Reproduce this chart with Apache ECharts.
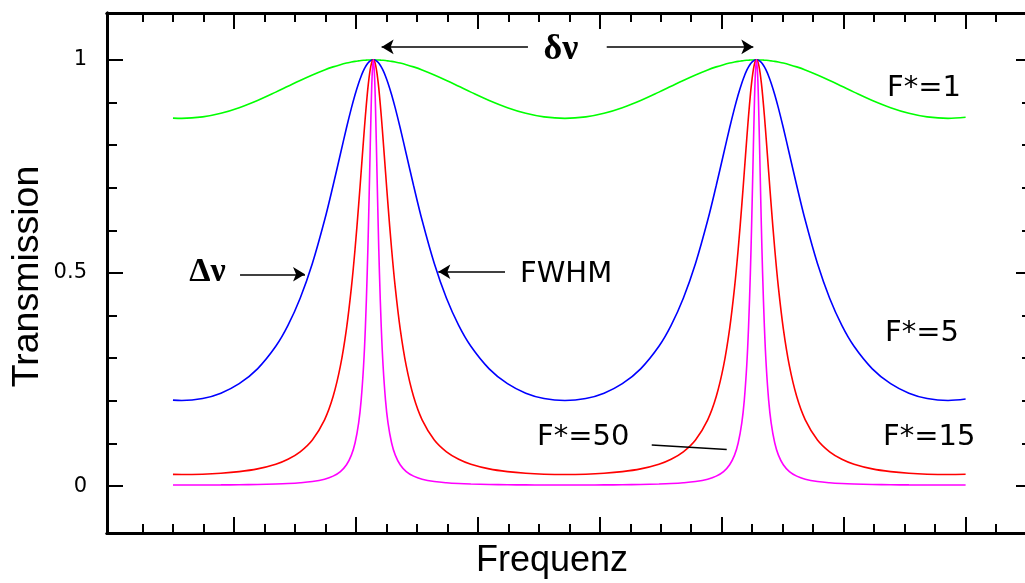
<!DOCTYPE html>
<html><head><meta charset="utf-8">
<script src="https://cdn.jsdelivr.net/npm/echarts@6/dist/echarts.min.js"></script>
<style>html,body{margin:0;padding:0;background:#fff}#c{width:1025px;height:583px}</style>
</head><body><div id="c"></div>
<script>
// Frequency axis positions (arbitrary units, major tick = 1)
const frequency = [0.5, 0.572,
 0.743, 0.893, 1.043, 1.193, 1.343, 1.443, 1.543, 1.643, 1.743, 1.813, 1.873, 1.923, 1.963, 1.993, 2.023, 2.043, 2.063, 2.078, 2.093, 2.103, 2.113, 2.123, 2.133,
 2.143,
 2.153, 2.163, 2.173, 2.183, 2.193, 2.208, 2.223, 2.243, 2.263, 2.293, 2.323, 2.363, 2.413, 2.473, 2.543, 2.643, 2.743, 2.843, 2.943, 3.093, 3.243, 3.393, 3.543,
 3.714,
 3.885, 4.035, 4.185, 4.335, 4.485, 4.585, 4.685, 4.785, 4.885, 4.955, 5.015, 5.065, 5.105, 5.135, 5.165, 5.185, 5.205, 5.220, 5.235, 5.245, 5.255, 5.265, 5.275,
 5.285,
 5.295, 5.305, 5.315, 5.325, 5.335, 5.350, 5.365, 5.385, 5.405, 5.435, 5.465, 5.505, 5.555, 5.615, 5.685, 5.785, 5.885, 5.985, 6.085, 6.235, 6.385, 6.535, 6.685,
 6.856, 7.0];

const transF1 = [0.8634, 0.8628,
 0.8662, 0.8747, 0.8879, 0.9048, 0.9244, 0.9381, 0.9518, 0.9647, 0.9765, 0.9836, 0.9888, 0.9925, 0.9949, 0.9965, 0.9977, 0.9984, 0.9990, 0.9993, 0.9996, 0.9997, 0.9999, 0.9999, 1.0000,
 1,
 1.0000, 0.9999, 0.9999, 0.9997, 0.9996, 0.9993, 0.9990, 0.9984, 0.9977, 0.9965, 0.9949, 0.9925, 0.9888, 0.9836, 0.9765, 0.9647, 0.9518, 0.9381, 0.9244, 0.9048, 0.8879, 0.8747, 0.8662,
 0.8628,
 0.8662, 0.8747, 0.8879, 0.9048, 0.9244, 0.9381, 0.9518, 0.9647, 0.9765, 0.9836, 0.9888, 0.9925, 0.9949, 0.9965, 0.9977, 0.9984, 0.9990, 0.9993, 0.9996, 0.9997, 0.9999, 0.9999, 1.0000,
 1,
 1.0000, 0.9999, 0.9999, 0.9997, 0.9996, 0.9993, 0.9990, 0.9984, 0.9977, 0.9965, 0.9949, 0.9925, 0.9888, 0.9836, 0.9765, 0.9647, 0.9518, 0.9381, 0.9244, 0.9048, 0.8879, 0.8747, 0.8662,
 0.8628, 0.8653];

const transF5 = [0.2017, 0.2008,
 0.2055, 0.2181, 0.2403, 0.2752, 0.3281, 0.3771, 0.4407, 0.5222, 0.6236, 0.7053, 0.7793, 0.8407, 0.8869, 0.9184, 0.9460, 0.9618, 0.9752, 0.9835, 0.9902, 0.9937, 0.9964, 0.9984, 0.9996,
 1,
 0.9996, 0.9984, 0.9964, 0.9937, 0.9902, 0.9835, 0.9752, 0.9618, 0.9460, 0.9184, 0.8869, 0.8407, 0.7793, 0.7053, 0.6236, 0.5222, 0.4407, 0.3771, 0.3281, 0.2752, 0.2403, 0.2181, 0.2055,
 0.2008,
 0.2055, 0.2181, 0.2403, 0.2752, 0.3281, 0.3771, 0.4407, 0.5222, 0.6236, 0.7053, 0.7793, 0.8407, 0.8869, 0.9184, 0.9460, 0.9618, 0.9752, 0.9835, 0.9902, 0.9937, 0.9964, 0.9984, 0.9996,
 1,
 0.9996, 0.9984, 0.9964, 0.9937, 0.9902, 0.9835, 0.9752, 0.9618, 0.9460, 0.9184, 0.8869, 0.8407, 0.7793, 0.7053, 0.6236, 0.5222, 0.4407, 0.3771, 0.3281, 0.2752, 0.2403, 0.2181, 0.2055,
 0.2008, 0.2042];

const transF15 = [0.0275, 0.0272,
 0.0280, 0.0301, 0.0340, 0.0405, 0.0515, 0.0631, 0.0806, 0.1084, 0.1556, 0.2101, 0.2819, 0.3697, 0.4657, 0.5557, 0.6609, 0.7370, 0.8139, 0.8688, 0.9179, 0.9459, 0.9688, 0.9859, 0.9964,
 1,
 0.9964, 0.9859, 0.9688, 0.9459, 0.9179, 0.8688, 0.8139, 0.7370, 0.6609, 0.5557, 0.4657, 0.3697, 0.2819, 0.2101, 0.1556, 0.1084, 0.0806, 0.0631, 0.0515, 0.0405, 0.0340, 0.0301, 0.0280,
 0.0272,
 0.0280, 0.0301, 0.0340, 0.0405, 0.0515, 0.0631, 0.0806, 0.1084, 0.1556, 0.2101, 0.2819, 0.3697, 0.4657, 0.5557, 0.6609, 0.7370, 0.8139, 0.8688, 0.9179, 0.9459, 0.9688, 0.9859, 0.9964,
 1,
 0.9964, 0.9859, 0.9688, 0.9459, 0.9179, 0.8688, 0.8139, 0.7370, 0.6609, 0.5557, 0.4657, 0.3697, 0.2819, 0.2101, 0.1556, 0.1084, 0.0806, 0.0631, 0.0515, 0.0405, 0.0340, 0.0301, 0.0280,
 0.0272, 0.0277];

const transF50 = [0.0025, 0.0025,
 0.0026, 0.0028, 0.0032, 0.0038, 0.0049, 0.0060, 0.0078, 0.0108, 0.0163, 0.0234, 0.0341, 0.0501, 0.0727, 0.1011, 0.1492, 0.2013, 0.2824, 0.3733, 0.5015, 0.6111, 0.7363, 0.8627, 0.9617,
 1,
 0.9617, 0.8627, 0.7363, 0.6111, 0.5015, 0.3733, 0.2824, 0.2013, 0.1492, 0.1011, 0.0727, 0.0501, 0.0341, 0.0234, 0.0163, 0.0108, 0.0078, 0.0060, 0.0049, 0.0038, 0.0032, 0.0028, 0.0026,
 0.0025,
 0.0026, 0.0028, 0.0032, 0.0038, 0.0049, 0.0060, 0.0078, 0.0108, 0.0163, 0.0234, 0.0341, 0.0501, 0.0727, 0.1011, 0.1492, 0.2013, 0.2824, 0.3733, 0.5015, 0.6111, 0.7363, 0.8627, 0.9617,
 1,
 0.9617, 0.8627, 0.7363, 0.6111, 0.5015, 0.3733, 0.2824, 0.2013, 0.1492, 0.1011, 0.0727, 0.0501, 0.0341, 0.0234, 0.0163, 0.0108, 0.0078, 0.0060, 0.0049, 0.0038, 0.0032, 0.0028, 0.0026,
 0.0025, 0.0026];

const xMajorTicks = [1, 2, 3, 4, 5, 6, 7];
const xMinorTicks = [0.25, 0.5, 0.75, 1.25, 1.5, 1.75, 2.25, 2.5, 2.75, 3.25, 3.5, 3.75, 4.25, 4.5, 4.75, 5.25, 5.5, 5.75, 6.25, 6.5, 6.75, 7.25];
const yMajorTicks = [0, 0.5, 1];
const yTickLabels = ['0', '0.5', '1'];
const yMinorTicks = [0.1, 0.2, 0.3, 0.4, 0.6, 0.7, 0.8, 0.9];

// annotation anchors in data coordinates
const deltaNuLeft = [[3.411, 1.0305], [2.211, 1.0305]];
const deltaNuRight = [[4.057, 1.0305], [5.259, 1.0305]];
const bigDeltaArrow = [[1.050, 0.497], [1.583, 0.497]];
const fwhmArrow = [[3.223, 0.503], [2.676, 0.503]];
const f50Leader = [[4.426, 0.0962], [5.041, 0.0861]];

const X_MIN = -0.041, X_MAX = 7.487, Y_MIN = -0.11, Y_MAX = 1.11;

const chart = echarts.init(document.getElementById('c'), null, {renderer: 'canvas'});

function xAx(grid, pos, ticks, len) {
  return {type: 'value', gridIndex: grid, position: pos, min: X_MIN, max: X_MAX,
    axisLine: {show: true, onZero: false, lineStyle: {color: '#000', width: 3}},
    axisTick: {show: true, inside: true, length: len, customValues: ticks, lineStyle: {color: '#000', width: 2}},
    axisLabel: {show: false}, splitLine: {show: false}};
}
function yAx(grid, pos, ticks, len, labels, showLine) {
  return {type: 'value', gridIndex: grid, position: pos, min: Y_MIN, max: Y_MAX,
    axisLine: {show: showLine, onZero: false, lineStyle: {color: '#000', width: 3}},
    axisTick: {show: true, inside: true, length: len, customValues: ticks, lineStyle: {color: '#000', width: 2}},
    axisLabel: labels ? {show: true, customValues: yMajorTicks, margin: 20, color: '#000',
      fontFamily: 'DejaVu Sans', fontSize: 21,
      formatter: v => yTickLabels[yMajorTicks.indexOf(v)]} : {show: false},
    splitLine: {show: false}};
}

function arrowLine(pts, startSym, endSym) {
  return [{coord: pts[0], symbol: startSym}, {coord: pts[1], symbol: endSym}];
}

function curve(name, ys, color, extra) {
  return Object.assign({
    type: 'line', name: name, xAxisIndex: 0, yAxisIndex: 0,
    data: frequency.map((x, i) => [x, ys[i]]),
    showSymbol: false, symbol: 'none', smooth: 0.35,
    lineStyle: {color: color, width: 1.6}, itemStyle: {color: color},
    silent: true
  }, extra || {});
}

const gridRect = {left: 107, top: 13, right: 0, bottom: 50, containLabel: false};

chart.setOption({
  animation: false,
  backgroundColor: '#fff',
  grid: [Object.assign({}, gridRect), Object.assign({}, gridRect)],
  xAxis: [xAx(0, 'bottom', xMajorTicks, 16), xAx(0, 'top', xMajorTicks, 16),
          xAx(1, 'bottom', xMinorTicks, 9), xAx(1, 'top', xMinorTicks, 9)],
  yAxis: [yAx(0, 'left', yMajorTicks, 16, true, true), yAx(0, 'right', yMajorTicks, 9, false, false),
          yAx(1, 'left', yMinorTicks, 10, false, true), yAx(1, 'right', yMinorTicks, 3, false, false)],
  series: [
    curve('F*=1', transF1, '#00ff00', {
      markLine: {
        silent: true, animation: false,
        symbolSize: [11, 12],
        lineStyle: {type: 'solid', color: '#000', width: 1.5},
        label: {show: false},
        emphasis: {disabled: true},
        data: [
          arrowLine(deltaNuLeft, 'none', 'arrow'),
          arrowLine(deltaNuRight, 'none', 'arrow'),
          arrowLine(bigDeltaArrow, 'none', 'arrow'),
          arrowLine(fwhmArrow, 'none', 'arrow'),
          arrowLine(f50Leader, 'none', 'none')
        ]
      }
    }),
    curve('F*=5', transF5, '#0000ff'),
    curve('F*=15', transF15, '#ff0000'),
    curve('F*=50', transF50, '#ff00ff')
  ],
  graphic: [
    {type: 'text', x: 27.5, y: 276.5, rotation: Math.PI / 2,
     style: {text: 'Transmission', font: '37.5px "Liberation Sans", Arial, sans-serif', fill: '#000',
             align: 'center', verticalAlign: 'middle', textAlign: 'center', textVerticalAlign: 'middle'}},
    {type: 'text', x: 552, y: 561,
     style: {text: 'Frequenz', font: '36px "Liberation Sans", Arial, sans-serif', fill: '#000',
             align: 'center', verticalAlign: 'middle', textAlign: 'center', textVerticalAlign: 'middle'}},
    {type: 'text', x: 887, y: 88.5,
     style: {text: 'F*=1', font: '29px "DejaVu Sans"', fill: '#000', align: 'left', verticalAlign: 'middle', textAlign: 'left', textVerticalAlign: 'middle'}},
    {type: 'text', x: 885, y: 333,
     style: {text: 'F*=5', font: '29px "DejaVu Sans"', fill: '#000', align: 'left', verticalAlign: 'middle', textAlign: 'left', textVerticalAlign: 'middle'}},
    {type: 'text', x: 883, y: 437.5,
     style: {text: 'F*=15', font: '29px "DejaVu Sans"', fill: '#000', align: 'left', verticalAlign: 'middle', textAlign: 'left', textVerticalAlign: 'middle'}},
    {type: 'text', x: 537, y: 437.5,
     style: {text: 'F*=50', font: '29px "DejaVu Sans"', fill: '#000', align: 'left', verticalAlign: 'middle', textAlign: 'left', textVerticalAlign: 'middle'}},
    {type: 'text', x: 520, y: 274.5,
     style: {text: 'FWHM', font: '29px "DejaVu Sans"', fill: '#000', align: 'left', verticalAlign: 'middle', textAlign: 'left', textVerticalAlign: 'middle'}},
    {type: 'text', x: 561, y: 50,
     style: {text: 'δν', font: 'bold 36px "Liberation Serif", "DejaVu Serif", serif', fill: '#000', align: 'center', verticalAlign: 'middle', textAlign: 'center', textVerticalAlign: 'middle'}},
    {type: 'text', x: 207.5, y: 272,
     style: {text: 'Δν', font: 'bold 34px "Liberation Serif", "DejaVu Serif", serif', fill: '#000', align: 'center', verticalAlign: 'middle', textAlign: 'center', textVerticalAlign: 'middle'}}
  ]
});
</script>
</body></html>
